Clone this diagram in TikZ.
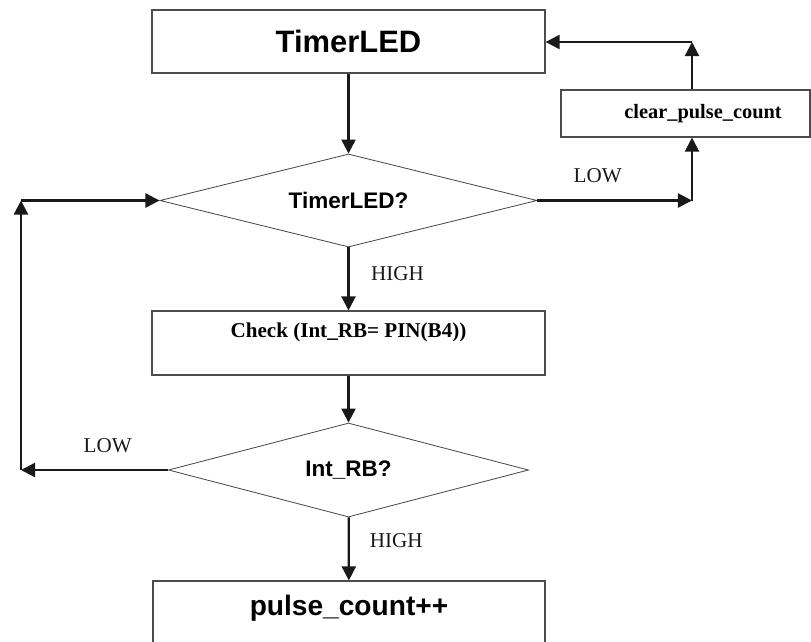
\documentclass[tikz,border=0pt]{standalone}
\usepackage{fontspec}
\setmainfont{Liberation Serif}
\setsansfont{Liberation Sans}
\usetikzlibrary{shapes.geometric,arrows.meta}

\begin{document}
\begin{tikzpicture}[x=0.025cm, y=-0.025cm,
    procbox/.style={rectangle, draw=black!70, line width=0.8pt, fill=white,
                 inner sep=0pt, align=center},
    decbox/.style={diamond, draw=black!70, line width=0.6pt, inner sep=0pt, aspect=4,
                 font=\sffamily\bfseries\fontsize{16}{18}\selectfont},
    flow/.style={-{Triangle[length=10pt,width=10pt]}, line width=1.6pt, black!90},
    lbl/.style={font=\fontsize{15}{17}\selectfont, inner sep=0pt},
  ]
  \useasboundingbox (0,0) rectangle (811,641);
  \node[procbox, minimum width=9.825cm, minimum height=1.575cm,
        font=\sffamily\bfseries\fontsize{22}{24}\selectfont] (timer) at (348.5,41.5) {TimerLED};
  \node[decbox, minimum width=9.425cm, minimum height=2.325cm] (ask1) at (348.5,200.5) {TimerLED?};
  \node[procbox, minimum width=9.825cm, minimum height=1.6cm, text height=10.5pt, text depth=18pt,
        font=\bfseries\fontsize{15}{18}\selectfont] (check) at (348.5,343) {Check (Int\_RB= PIN(B4))};
  \node[decbox, minimum width=9cm, minimum height=2.35cm] (ask2) at (348.5,470) {Int\_RB?};
  \node[procbox, minimum width=9.8cm, minimum height=1.975cm, text height=15pt, text depth=22.4pt,
        font=\sffamily\bfseries\fontsize{20}{24}\selectfont] (pulse) at (349,620.5) {pulse\_count++};
  \node[procbox, minimum width=6.225cm, minimum height=1.175cm,
        font=\bfseries\fontsize{14.5}{17}\selectfont] (clear) at (685.5,113.5) {\hspace*{0.875cm}clear\_pulse\_count};

  \coordinate (rbend) at (692,200.5);
  \coordinate (rtop) at (692,42);
  \coordinate (lbot) at (21,470);
  \coordinate (ltop) at (21,200.5);

  \draw[flow] (timer) -- (ask1);
  \draw[flow] (ask1) -- node[lbl, pos=0.41, right=0.54cm] {HIGH} (check);
  \draw[flow] (check) -- (ask2);
  \draw[flow] (ask2) -- node[lbl, pos=0.375, right=0.5cm] {HIGH} (pulse);
  \draw[flow] (ask1.east) -- node[lbl, pos=0.39, above=0.42cm] {LOW} (rbend);
  \draw[flow] (rbend) -- (rbend |- clear.south);
  \draw[flow] (rbend |- clear.north) -- (rtop);
  \draw[flow] (rtop) -- (rtop -| timer.east);
  \draw[flow] (ask2.west) -- node[lbl, pos=0.41, above=0.4cm] {LOW} (lbot);
  \draw[flow] (lbot) -- (ltop);
  \draw[flow] (ltop) -- (ask1.west);
\end{tikzpicture}
\end{document}
